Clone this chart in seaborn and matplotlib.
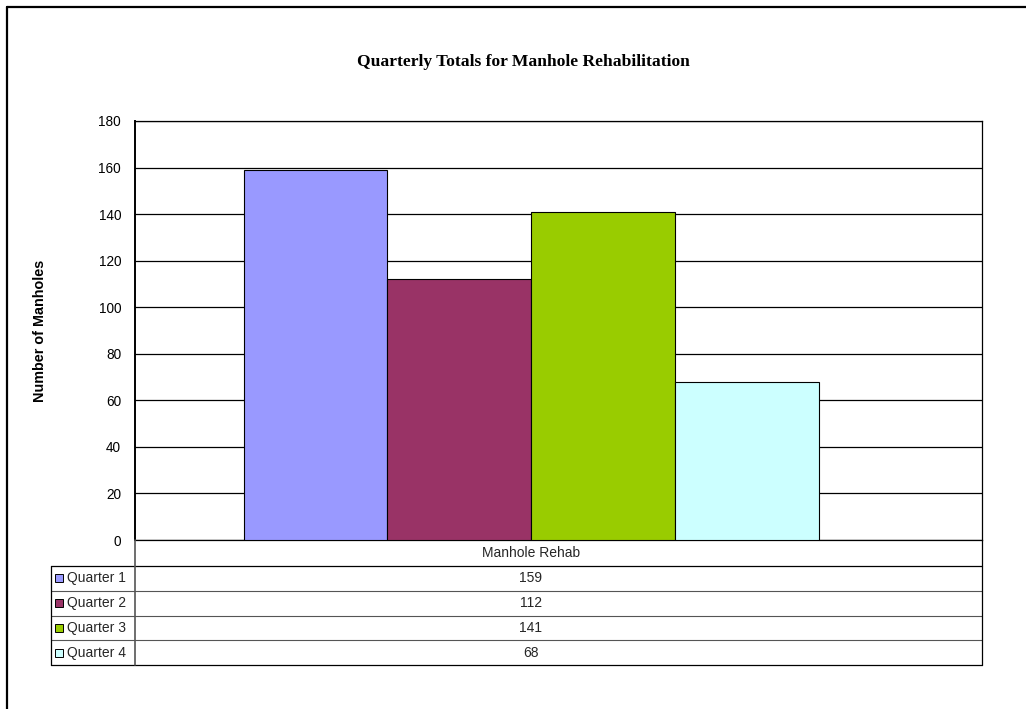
import matplotlib
matplotlib.use("Agg")
import matplotlib.pyplot as plt
from matplotlib.lines import Line2D
from matplotlib.patches import Rectangle
import pandas as pd
import seaborn as sns

# dane
category = "Manhole Rehab"
quarters = ["Quarter 1", "Quarter 2", "Quarter 3", "Quarter 4"]
totals = [159, 112, 141, 68]
colors = ["#9999FF", "#993366", "#99CC00", "#CCFFFF"]
y_ticks = list(range(0, 181, 20))

df = pd.DataFrame({"category": [category] * len(quarters),
                   "quarter": quarters,
                   "total": totals})

sns.set_style("white")
plt.rcParams["font.family"] = ["Liberation Sans", "DejaVu Sans"]

W, H = 1026, 709
fig = plt.figure(figsize=(W / 100, H / 100), dpi=100)

def fx(px):
    return px / W

def fy(py):
    return 1 - py / H

# obszar wykresu (piksele: 135..982, 121..540)
L, R, T, B = 135, 982, 121, 540
CX = 531  # środek kategorii w pikselach (Excel nie centruje idealnie)
ax = fig.add_axes([fx(L), fy(B), fx(R - L), (B - T) / H])

sns.barplot(data=df, x="category", y="total", hue="quarter", hue_order=quarters,
            palette=colors, saturation=1, width=575 / 847, gap=0, edgecolor="black",
            linewidth=0.8, legend=False, ax=ax, zorder=3)

shift = (CX - (L + R) / 2) / (R - L)
ax.set_xlim(-0.5 - shift, 0.5 - shift)
ax.set_ylim(0, 180)
ax.set_yticks(y_ticks)
ax.set_yticklabels([str(v) for v in y_ticks], fontsize=9.8)
ax.set_xticks([])
ax.set_xlabel("")
ax.set_ylabel("")
ax.tick_params(axis="y", direction="out", length=6, width=0.8, color="black",
               labelcolor="black", pad=4)
ax.yaxis.grid(True, color="black", linewidth=0.9)
ax.set_axisbelow(True)
for s in ax.spines.values():
    s.set_color("black")
    s.set_linewidth(0.9)
ax.spines["left"].set_linewidth(1.4)

# tytuł i opis osi
fig.text(fx(523), fy(62), "Quarterly Totals for Manhole Rehabilitation",
         ha="center", va="center", fontsize=12.6, fontweight="bold", color="black",
         family=["Liberation Serif", "DejaVu Serif"])
fig.text(fx(40), fy((T + B) / 2), "Number of Manholes", rotation=90,
         ha="center", va="center", fontsize=10.4, fontweight="bold", color="black")

# tabela danych pod wykresem
tab = fig.add_axes([0, 0, 1, 1], zorder=5)
tab.set_xlim(0, W)
tab.set_ylim(H, 0)
tab.axis("off")

row_top, row_bot, lab_left = 566, 665, 51
row_h = (row_bot - row_top) / len(quarters)
lc = dict(color="black", linewidth=0.9)
tab.plot([lab_left, R], [row_top, row_top], **lc)
for i in range(1, len(quarters)):
    y = row_top + i * row_h
    tab.plot([lab_left, R], [y, y], color="#555555", linewidth=0.8)
tab.plot([lab_left, R], [row_bot, row_bot], **lc)
tab.plot([lab_left, lab_left], [row_top, row_bot], **lc)
tab.plot([L, L], [B, row_bot], color="#555555", linewidth=1.2)
tab.plot([R, R], [B, row_bot], **lc)

fs = 10
tab.text(CX, (B + row_top) / 2, category, ha="center", va="center", fontsize=fs)
for i, (q, v, c) in enumerate(zip(quarters, totals, colors)):
    yc = row_top + (i + 0.5) * row_h
    tab.add_patch(Rectangle((55, yc - 4), 8, 8, facecolor=c, edgecolor="black", linewidth=0.7))
    tab.text(67, yc, q, ha="left", va="center", fontsize=fs)
    tab.text(CX, yc, str(v), ha="center", va="center", fontsize=fs)

# ramka wokół całego wykresu
fig.add_artist(Line2D([fx(6.5), fx(6.5)], [fy(6.5), 0], color="black", linewidth=1.6))
fig.add_artist(Line2D([fx(6.5), 1], [fy(6.5), fy(6.5)], color="black", linewidth=1.6))

fig.savefig("out.png", dpi=100)
